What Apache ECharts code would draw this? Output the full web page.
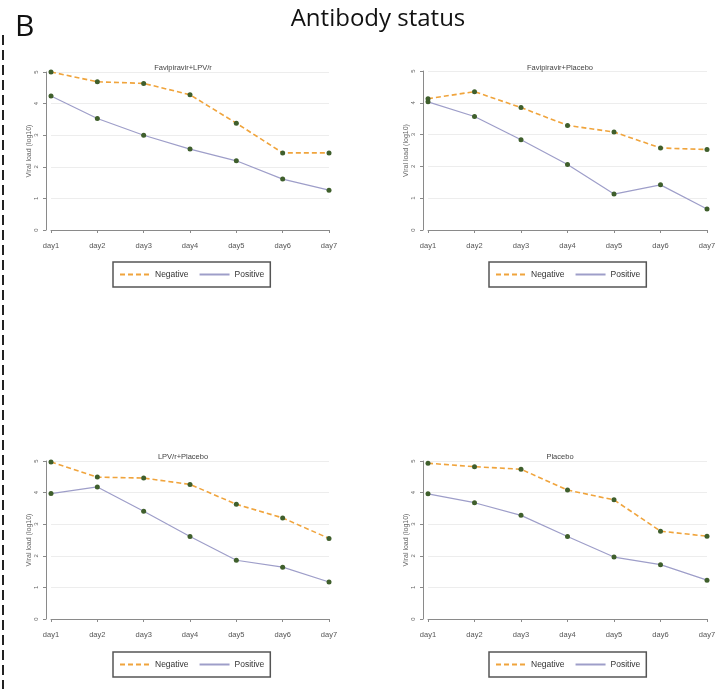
<!DOCTYPE html>
<html>
<head>
<meta charset="utf-8">
<script src="https://cdn.jsdelivr.net/npm/echarts@6/dist/echarts.min.js"></script>
<style>
  html, body { margin: 0; padding: 0; background: #fff; }
  #chart { width: 719px; height: 689px; }
</style>
</head>
<body>
<div id="chart"></div>
<script>
// 数据
const days = ['day1', 'day2', 'day3', 'day4', 'day5', 'day6', 'day7'];
const panelTitles = ['Favipiravir+LPV/r', 'Favipiravir+Placebo', 'LPV/r+Placebo', 'Placebo'];
const favLpvNeg = [5.0, 4.69, 4.64, 4.28, 3.38, 2.44, 2.44];
const favLpvPos = [4.24, 3.53, 3.0, 2.56, 2.19, 1.61, 1.26];
const favPlaNeg = [4.13, 4.35, 3.85, 3.29, 3.08, 2.58, 2.53];
const favPlaPos = [4.03, 3.57, 2.84, 2.06, 1.13, 1.42, 0.66];
const lpvPlaNeg = [4.97, 4.49, 4.46, 4.26, 3.63, 3.20, 2.55];
const lpvPlaPos = [3.97, 4.18, 3.41, 2.61, 1.86, 1.64, 1.17];
const plaNeg = [4.93, 4.82, 4.74, 4.08, 3.77, 2.78, 2.62];
const plaPos = [3.96, 3.68, 3.28, 2.61, 1.96, 1.72, 1.23];

const negSets = [favLpvNeg, favPlaNeg, lpvPlaNeg, plaNeg];
const posSets = [favLpvPos, favPlaPos, lpvPlaPos, plaPos];

// 每个面板的位置
const grids = [
  { left: 51, top: 72, width: 278, height: 158 },
  { left: 428, top: 71, width: 279, height: 159 },
  { left: 51, top: 461, width: 278, height: 158 },
  { left: 428, top: 461, width: 279, height: 158 }
];
const titlePos = [[178, 59], [555, 59], [178, 448], [555, 448]];
const legendPos = [[113, 262], [489, 262], [113, 652], [489, 652]];

const chart = echarts.init(document.getElementById('chart'));

const xAxes = [], yAxes = [], series = [], titles = [], legends = [];

titles.push({
  text: 'Antibody status',
  left: 373, top: 2, textAlign: 'center',
  textStyle: { fontFamily: 'Open Sans', fontSize: 24, fontWeight: 'normal', color: '#111' }
});

grids.forEach((g, i) => {
  xAxes.push({
    gridIndex: i,
    type: 'category',
    data: days,
    boundaryGap: false,
    offset: 6,
    axisLine: { lineStyle: { color: '#8a8a8a', width: 1 } },
    axisTick: { alignWithLabel: true, length: 3, lineStyle: { color: '#8a8a8a' } },
    axisLabel: { fontSize: 7.5, color: '#555', margin: 6, fontFamily: 'Liberation Sans' },
    splitLine: { show: false }
  });
  yAxes.push({
    gridIndex: i,
    type: 'value',
    min: 0, max: 5, interval: 1,
    offset: 5,
    name: 'Viral load (log10)',
    nameLocation: 'middle',
    nameRotate: 90,
    nameGap: 13,
    nameTextStyle: { fontSize: 7, color: '#666', fontFamily: 'Liberation Sans' },
    axisLine: { show: true, lineStyle: { color: '#8a8a8a', width: 1 } },
    axisTick: { show: true, length: 3, lineStyle: { color: '#8a8a8a' } },
    axisLabel: { fontSize: 6, color: '#666', rotate: 90, margin: 7, fontFamily: 'Liberation Sans' },
    splitLine: { show: true, lineStyle: { color: '#ededed', width: 1 } }
  });
  titles.push({
    text: panelTitles[i],
    left: titlePos[i][0], top: titlePos[i][1], textAlign: 'center',
    textStyle: { fontSize: 7.5, fontWeight: 'normal', color: '#444', fontFamily: 'Liberation Sans' }
  });
  legends.push({
    data: ['Negative', 'Positive'],
    left: legendPos[i][0], top: legendPos[i][1],
    orient: 'horizontal',
    padding: [8, 6],
    itemGap: 10,
    itemWidth: 30,
    itemHeight: 8,
    borderColor: '#555',
    borderWidth: 1.5,
    selectedMode: false,
    itemStyle: { opacity: 0 },
    textStyle: { fontSize: 8.5, color: '#333', fontFamily: 'Liberation Sans' }
  });
  series.push({
    name: 'Negative',
    type: 'line',
    xAxisIndex: i, yAxisIndex: i,
    data: negSets[i],
    symbol: 'circle', symbolSize: 5,
    itemStyle: { color: '#3f5f2c' },
    lineStyle: { color: '#f0a43c', width: 1.6, type: [5, 3] },
    z: 3
  });
  series.push({
    name: 'Positive',
    type: 'line',
    xAxisIndex: i, yAxisIndex: i,
    data: posSets[i],
    symbol: 'circle', symbolSize: 5,
    itemStyle: { color: '#3f5f2c' },
    lineStyle: { color: '#9e9ec9', width: 1.2 },
    z: 2
  });
});

chart.setOption({
  backgroundColor: '#fff',
  animation: false,
  title: titles,
  legend: legends,
  grid: grids,
  xAxis: xAxes,
  yAxis: yAxes,
  series: series,
  graphic: [
    {
      type: 'text', left: 15, top: 12,
      style: { text: 'B', fontSize: 30, fontFamily: 'Open Sans', fill: '#111' }
    },
    {
      type: 'line',
      shape: { x1: 3, y1: 35, x2: 3, y2: 689 },
      style: { stroke: '#222', lineWidth: 2, lineDash: [10, 5] }
    }
  ]
});
</script>
</body>
</html>
